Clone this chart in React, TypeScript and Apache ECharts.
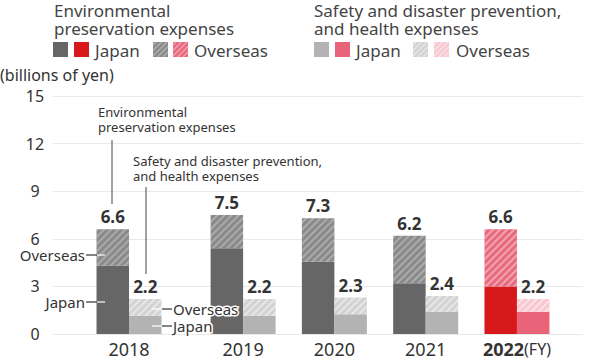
import React, { useEffect, useRef } from "react";
import * as echarts from "echarts";

// ---- data ----
const years = ["2018", "2019", "2020", "2021", "2022"];
const envTotal = [6.6, 7.5, 7.3, 6.2, 6.6];
const envJapan = [4.3, 5.4, 4.55, 3.2, 3.0];
const safTotal = [2.2, 2.2, 2.3, 2.4, 2.2];
const safJapan = [1.15, 1.15, 1.25, 1.4, 1.4];
const yTicks = [0, 3, 6, 9, 12, 15];

// ---- layout (category slots: uneven year spacing) ----
const SLOTS = 22;
const yearSlot = [2, 7, 11, 15, 19];

const FONT = "'Noto Sans', 'Open Sans', sans-serif";
const TXT = "#333333";

const C = {
  envJp: "#666666",
  envOs: "#8a8a8a",
  safJp: "#b3b3b3",
  safOs: "#d3d3d3",
  envJpHi: "#d7191c",
  envOsHi: "#e96a7f",
  safJpHi: "#ea6479",
  safOsHi: "#f8c8d0",
};

const hatch = (color: string) => ({
  symbol: "rect",
  symbolSize: 1,
  dashArrayX: [1, 0],
  dashArrayY: [1.4, 2.6],
  rotation: -Math.PI / 4,
  color,
});

const envOverseas = envTotal.map((t, i) => +(t - envJapan[i]).toFixed(2));
const safOverseas = safTotal.map((t, i) => +(t - safJapan[i]).toFixed(2));

function pad(vals: number[], hiStyle?: any) {
  const arr: any[] = new Array(SLOTS).fill(null);
  vals.forEach((v, i) => {
    arr[yearSlot[i]] =
      i === years.length - 1 && hiStyle ? { value: v, itemStyle: hiStyle } : v;
  });
  return arr;
}

const categories = Array.from({ length: SLOTS }, (_, k) => {
  const i = yearSlot.indexOf(k);
  return i >= 0 ? years[i] : "_" + k;
});

const Z = 100;

function legendHatch(x: number, y: number, bg: string, stripe: string) {
  const s = 15;
  const children: any[] = [
    { type: "rect", z: Z, shape: { x, y, width: s, height: s }, style: { fill: bg } },
  ];
  [3, 8.5, 14, 19.5, 25].forEach((c) => {
    let x1, y1, x2, y2;
    if (c <= s) {
      x1 = x; y1 = y + c; x2 = x + c; y2 = y;
    } else {
      x1 = x + c - s; y1 = y + s; x2 = x + s; y2 = y + c - s;
    }
    children.push({
      type: "line",
      z: Z + 1,
      shape: { x1, y1, x2, y2 },
      style: { stroke: stripe, lineWidth: 1.3 },
    });
  });
  return { type: "group", children };
}

function sq(x: number, y: number, fill: string) {
  return { type: "rect", z: Z, shape: { x, y, width: 15, height: 15 }, style: { fill } };
}

function txt(x: number, y: number, text: string, size: number, extra: any = {}) {
  return {
    type: "text",
    z: Z + 2,
    x,
    y,
    style: {
      text,
      fontSize: size,
      fontFamily: FONT,
      fill: TXT,
      verticalAlign: "middle",
      ...extra,
    },
  };
}

function seg(x1: number, x2: number, y: number, color: string) {
  return {
    type: "line",
    z: Z + 1,
    shape: { x1, y1: y, x2, y2: y },
    style: { stroke: color, lineWidth: 1.2 },
  };
}

function vseg(x: number, y1: number, y2: number) {
  return {
    type: "line",
    z: Z + 1,
    shape: { x1: x, y1, x2: x, y2 },
    style: { stroke: "#444", lineWidth: 1 },
  };
}

export default function App() {
  const ref = useRef<HTMLDivElement>(null);

  useEffect(() => {
    if (!ref.current) return;
    const chart = echarts.init(ref.current, undefined, { renderer: "svg" });

    const barLabel = (totals: number[]) => ({
      show: true,
      position: "top",
      distance: 4,
      fontSize: 17,
      fontWeight: "bold",
      fontFamily: FONT,
      color: TXT,
      formatter: (p: any) => {
        const i = yearSlot.indexOf(p.dataIndex);
        return i < 0 ? "" : totals[i].toFixed(1);
      },
    });

    const common = {
      type: "bar",
      xAxisIndex: 1,
      yAxisIndex: 1,
      barWidth: 32.5,
      barGap: "0%",
      clip: false,
    };

    const option: any = {
      animation: false,
      grid: [
        { left: 53, right: 13, top: 96, bottom: 26 },
        { left: 71.96, right: 22, top: 96, bottom: 26 },
      ],
      xAxis: [
        { type: "value", gridIndex: 0, show: false, min: 0, max: 1 },
        {
          type: "category",
          gridIndex: 1,
          data: categories,
          axisLine: { show: false },
          axisTick: { show: false },
          axisLabel: {
            interval: 0,
            margin: 6,
            fontSize: 18,
            fontFamily: FONT,
            color: TXT,
            formatter: (v: string) => {
              if (v === years[years.length - 1]) return "{b|" + v + "}{n|(FY)}";
              return years.includes(v) ? v : "";
            },
            rich: {
              b: { fontSize: 18, fontWeight: "bold", fontFamily: FONT, color: TXT },
              n: { fontSize: 16, fontFamily: FONT, color: TXT },
            },
          },
        },
      ],
      yAxis: [
        {
          type: "value",
          gridIndex: 0,
          min: yTicks[0],
          max: yTicks[yTicks.length - 1],
          interval: yTicks[1] - yTicks[0],
          axisLine: { show: false },
          axisTick: { show: false },
          splitLine: { lineStyle: { color: "#e9e9e9", width: 1 } },
          axisLabel: {
            fontSize: 16,
            fontFamily: FONT,
            color: TXT,
            align: "center",
            margin: 18,
          },
        },
        {
          type: "value",
          gridIndex: 1,
          min: yTicks[0],
          max: yTicks[yTicks.length - 1],
          show: false,
          splitLine: { show: false },
        },
      ],
      series: [
        {
          ...common,
          name: "envJapan",
          stack: "env",
          itemStyle: { color: C.envJp },
          data: pad(envJapan, { color: C.envJpHi }),
        },
        {
          ...common,
          name: "envOverseas",
          stack: "env",
          itemStyle: { color: C.envOs, decal: hatch("rgba(255,255,255,0.28)") },
          label: barLabel(envTotal),
          data: pad(envOverseas, {
            color: C.envOsHi,
            decal: hatch("rgba(255,255,255,0.38)"),
          }),
        },
        {
          ...common,
          name: "safJapan",
          stack: "saf",
          itemStyle: { color: C.safJp },
          data: pad(safJapan, { color: C.safJpHi }),
        },
        {
          ...common,
          name: "safOverseas",
          stack: "saf",
          itemStyle: { color: C.safOs, decal: hatch("rgba(255,255,255,0.45)") },
          label: barLabel(safTotal),
          data: pad(safOverseas, {
            color: C.safOsHi,
            decal: hatch("rgba(255,255,255,0.45)"),
          }),
        },
      ],
      graphic: [
        // legend: environmental
        txt(54, 10.5, "Environmental", 17, { fill: "#444" }),
        txt(54, 28, "preservation expenses", 17, { fill: "#444" }),
        sq(53, 42, C.envJp),
        sq(74, 42, C.envJpHi),
        txt(95, 50, "Japan", 17, { fill: "#444" }),
        legendHatch(153, 42, C.envOs, "#b3b3b3"),
        legendHatch(173, 42, C.envOsHi, "#f3a3b0"),
        txt(194, 50, "Overseas", 17, { fill: "#444" }),
        // legend: safety
        txt(314, 10.5, "Safety and disaster prevention,", 17, { fill: "#444" }),
        txt(314, 28, "and health expenses", 17, { fill: "#444" }),
        sq(314, 42, C.safJp),
        sq(335, 42, C.safJpHi),
        txt(356, 50, "Japan", 17, { fill: "#444" }),
        legendHatch(413, 42, C.safOs, "#e8e8e8"),
        legendHatch(434, 42, C.safOsHi, "#fce2e7"),
        txt(456, 50, "Overseas", 17, { fill: "#444" }),
        // unit
        txt(0, 75, "(billions of yen)", 16),
        // annotations
        txt(98, 112, "Environmental", 13),
        txt(98, 127, "preservation expenses", 13),
        vseg(112, 140, 204),
        txt(133, 161, "Safety and disaster prevention,", 13),
        txt(133, 176, "and health expenses", 13),
        vseg(146, 187, 274),
        txt(85, 255, "Overseas", 15, { align: "right" }),
        seg(86, 97, 255, "#333"),
        seg(97, 105, 255, "#ffffff"),
        txt(85, 302, "Japan", 15, { align: "right" }),
        seg(86, 97, 302, "#333"),
        seg(97, 105, 302, "#ffffff"),
        seg(152, 162, 309, "#ffffff"),
        seg(162, 172, 309, "#333"),
        txt(173, 309, "Overseas", 15, {
          align: "left",
          stroke: "#ffffff",
          lineWidth: 3,
        }),
        seg(152, 162, 326, "#ffffff"),
        seg(162, 172, 326, "#333"),
        txt(173, 326, "Japan", 15, {
          align: "left",
          stroke: "#ffffff",
          lineWidth: 3,
        }),
      ],
    };

    chart.setOption(option);
    return () => chart.dispose();
  }, []);

  return (
    <div
      ref={ref}
      style={{ position: "absolute", left: 0, top: 0, width: 596, height: 360 }}
    />
  );
}
